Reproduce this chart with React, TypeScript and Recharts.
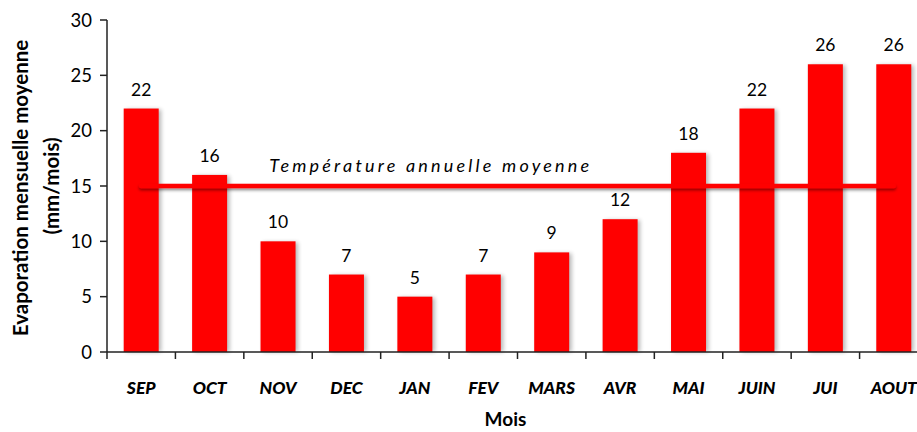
import React from 'react';
import { ComposedChart, Bar, Line, XAxis, YAxis, LabelList } from 'recharts';

const months = ['SEP', 'OCT', 'NOV', 'DEC', 'JAN', 'FEV', 'MARS', 'AVR', 'MAI', 'JUIN', 'JUI', 'AOUT'];
const evaporation = [22, 16, 10, 7, 5, 7, 9, 12, 18, 22, 26, 26];
const temperatureMoyenne = [15, 15, 15, 15, 15, 15, 15, 15, 15, 15, 15, 15];
const yTicks = [0, 5, 10, 15, 20, 25, 30];

const data = months.map((m, i) => ({ month: m, evap: evaporation[i], temp: temperatureMoyenne[i] }));

const FONT = 'Lato, "Open Sans", sans-serif';
const CHART_W = 940;
const CHART_H = 432;
const MARGIN = { top: 20, right: 12, bottom: 0, left: 0 };
const Y_W = 107;
const X_H = 80;
const BAND = (CHART_W - MARGIN.left - MARGIN.right - Y_W) / months.length;

const XTick = (props: any) => {
  const { x, y, payload } = props;
  const bx = x - BAND / 2;
  return (
    <g>
      <line x1={bx} y1={y - 8} x2={bx} y2={y - 1} stroke="#222" strokeWidth={1.5} />
      <text x={x} y={y + 34} textAnchor="middle" fontFamily={FONT} fontWeight={900} fontStyle="italic" fontSize={17.5} fill="#000">
        {payload.value}
      </text>
    </g>
  );
};

const BarShape = (props: any) => {
  const { x, y, width, height } = props;
  return (
    <g>
      <rect x={x + 2.5} y={y + 1} width={width} height={height - 1} fill="#000" opacity={0.28} filter="url(#barShadow)" />
      <rect x={x} y={y} width={width} height={height} fill="#FF0000" />
    </g>
  );
};

const TempLabel = (props: any) => {
  const { x, y, index } = props;
  if (index !== 4) return null;
  return (
    <text x={x + 16} y={y - 14} textAnchor="middle" fontFamily={FONT} fontStyle="italic" fontSize={18} letterSpacing={3.2} fill="#000">
      Température annuelle moyenne
    </text>
  );
};

const YTitle = () => (
  <g fontFamily={FONT} fontWeight={700} fontSize={20.5} fill="#000">
    <text x={20} y={188} textAnchor="middle" dominantBaseline="central" transform="rotate(-90, 20, 188)">
      Evaporation mensuelle moyenne
    </text>
    <text x={51} y={186} textAnchor="middle" dominantBaseline="central" transform="rotate(-90, 51, 186)">
      (mm/mois)
    </text>
  </g>
);

const XTitle = (props: any) => {
  const vb = props.viewBox || {};
  return (
    <text x={vb.x + vb.width / 2 - 12} y={426} textAnchor="middle" fontFamily={FONT} fontWeight={700} fontSize={19} fill="#000">
      Mois
    </text>
  );
};

export default function App() {
  return (
    <div style={{ position: 'absolute', left: 0, top: 0, width: CHART_W, height: CHART_H, background: '#fff' }}>
      <svg width={1} height={1} style={{ position: 'absolute', left: 0, top: 0 }}>
        <defs>
          <filter id="barShadow" filterUnits="userSpaceOnUse" x={0} y={0} width={CHART_W} height={CHART_H}>
            <feGaussianBlur stdDeviation={2} />
          </filter>
          <filter id="lineShadow" filterUnits="userSpaceOnUse" x={0} y={0} width={CHART_W} height={CHART_H}>
            <feDropShadow dx={0} dy={2} stdDeviation={1.5} floodColor="#000" floodOpacity={0.45} />
          </filter>
        </defs>
      </svg>
      <ComposedChart width={CHART_W} height={CHART_H} data={data} margin={MARGIN} barCategoryGap="24.4%">
        <XAxis
          dataKey="month"
          height={X_H}
          axisLine={{ stroke: '#222', strokeWidth: 1.5 }}
          tickLine={false}
          tick={<XTick />}
          interval={0}
          label={<XTitle />}
        />
        <YAxis
          width={Y_W}
          domain={[0, 30]}
          ticks={yTicks}
          axisLine={{ stroke: '#222', strokeWidth: 1.5 }}
          tickLine={{ stroke: '#222', strokeWidth: 1.5 }}
          tickSize={7}
          tick={{ fontFamily: FONT, fontSize: 18.5, fill: '#000' }}
          tickMargin={8}
          label={<YTitle />}
        />
        <Bar dataKey="evap" isAnimationActive={false} shape={<BarShape />}>
          <LabelList dataKey="evap" position="top" offset={13} style={{ fontFamily: FONT, fontSize: 17.5, fill: '#000' }} />
        </Bar>
        <Line
          dataKey="temp"
          stroke="#FF0000"
          strokeWidth={4.5}
          strokeLinecap="round"
          dot={false}
          activeDot={false}
          isAnimationActive={false}
          style={{ filter: 'url(#lineShadow)' }}
        >
          <LabelList dataKey="temp" content={<TempLabel />} />
        </Line>
      </ComposedChart>
    </div>
  );
}
